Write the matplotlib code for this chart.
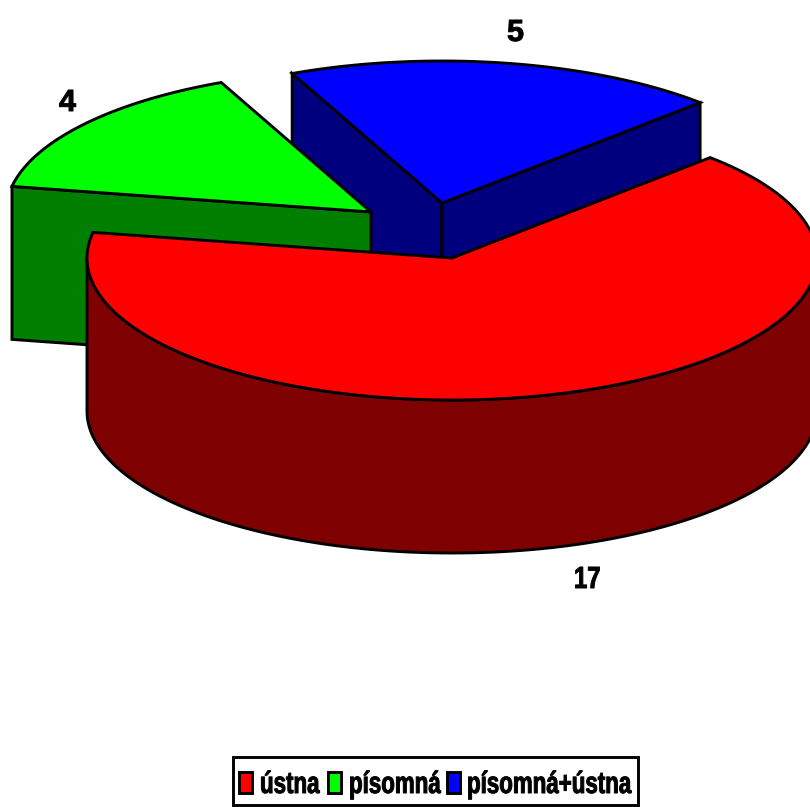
import numpy as np
import matplotlib
matplotlib.use("Agg")
import matplotlib.pyplot as plt
from matplotlib.patches import Polygon, Rectangle
from matplotlib.patheffects import AbstractPathEffect
from matplotlib.transforms import Affine2D

labels = ["ústna", "písomná", "písomná+ústna"]
values = [17, 4, 5]
top_colors = ["#ff0000", "#00ff00", "#0000ff"]
side_colors = ["#7f0000", "#007f00", "#00007f"]

# picture is laid out in pixels, y pointing down
CX, CY = 452, 258
RX, RY = 365, 142
DEPTH = 153
START = 45
EDGE = 2.1
offsets = [(0, 0), (-81, -46), (-10, -55)]
text_pos = [(574, 588), (59, 111), (507, 41)]
value_sq = [0.78, 1, 1]
legend_sw = [238, 327, 446]
legend_tx = [260, 349, 467]
LEGEND_SQ = 0.73


class Squeeze(AbstractPathEffect):
    # the original font is narrowed sideways and thickened a bit, text stays text
    def __init__(self, sx, stroke=0.7):
        super().__init__()
        self.sx = sx
        self.stroke = stroke

    def draw_path(self, renderer, gc, tpath, affine, rgbFace=None):
        m = affine.get_matrix().copy()
        m[0, :2] *= self.sx
        gc0 = renderer.new_gc()
        gc0.copy_properties(gc)
        gc0.set_linewidth(self.stroke)
        gc0.set_foreground("black")
        renderer.draw_path(gc0, tpath, Affine2D(m), rgbFace)
        gc0.restore()


def rim(a0, a1, off):
    t = np.radians(np.linspace(a0, a1, 200))
    return np.column_stack([CX + off[0] + RX * np.cos(t), CY + off[1] - RY * np.sin(t)])


def wall(p, q):
    return [p, q, (q[0], q[1] + DEPTH), (p[0], p[1] + DEPTH)]


fig = plt.figure(figsize=(8.1, 8.07), dpi=100)
ax = fig.add_axes([0, 0, 1, 1])
ax.set_xlim(0, 810)
ax.set_ylim(807, 0)
ax.axis("off")

# slice angles run clockwise from START
sweep = np.array(values) / sum(values) * 360
ends = START - np.cumsum(sweep)
starts = ends + sweep


def add(points, color, z):
    ax.add_patch(Polygon(points, closed=True, fc=color, ec="black", lw=EDGE, joinstyle="miter", zorder=z))


# blue, exploded back
arc = rim(starts[2], ends[2], offsets[2])
apex = (CX + offsets[2][0], CY + offsets[2][1])
add(wall(apex, arc[0]), side_colors[2], 1)
add(wall(apex, arc[-1]), side_colors[2], 1)
add(np.vstack([[apex], arc]), top_colors[2], 2)

# green, exploded left
arc = rim(starts[1], ends[1], offsets[1])
apex = (CX + offsets[1][0], CY + offsets[1][1])
add(wall(apex, arc[0]), side_colors[1], 3)
add(np.vstack([[apex], arc]), top_colors[1], 4)

# red, the big one in front; its outer wall only shows on the lower half
front = rim(-180, 0, offsets[0])
add(np.vstack([front, front[::-1] + [0, DEPTH]]), side_colors[0], 5)
arc = rim(starts[0], ends[0], offsets[0])
add(np.vstack([[(CX, CY)], arc]), top_colors[0], 6)

for v, (x, y), sq in zip(values, text_pos, value_sq):
    t = ax.text(x, y, str(v), fontsize=22, fontweight="bold", family="Liberation Sans",
                ha="left", va="baseline", zorder=8)
    t.set_path_effects([Squeeze(sq)])

ax.add_patch(Rectangle((233, 757), 405, 48, fc="white", ec="black", lw=EDGE, zorder=8))
for lab, col, xs, xt in zip(labels, top_colors, legend_sw, legend_tx):
    ax.add_patch(Rectangle((xs + 1, 772), 13, 21, fc=col, ec="black", lw=EDGE, zorder=9))
    t = ax.text(xt, 793, lab, fontsize=22, fontweight="bold", family="Liberation Sans",
                ha="left", va="baseline", zorder=9)
    t.set_path_effects([Squeeze(LEGEND_SQ)])

fig.savefig("out.png", dpi=100)
